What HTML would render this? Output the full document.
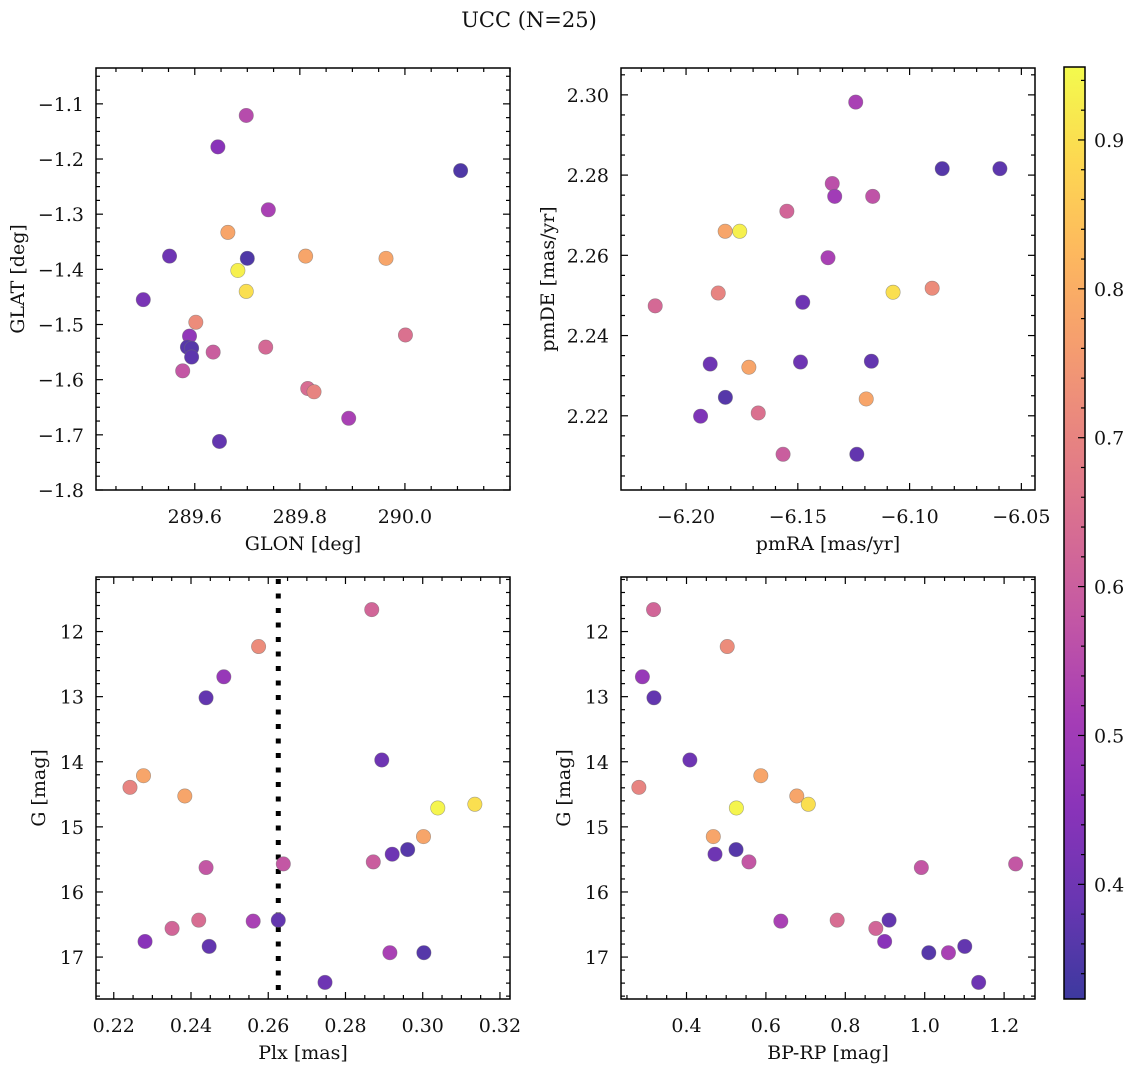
<!DOCTYPE html>
<html><head><meta charset="utf-8"><title>UCC (N=25)</title>
<style>
html,body{margin:0;padding:0;background:#fff;}
svg{display:block;font-family:"DejaVu Serif","Liberation Serif",serif;}
</style></head>
<body>
<svg id="fig" width="1136" height="1067" viewBox="0 0 1136 1067" xmlns="http://www.w3.org/2000/svg">
<defs>
<linearGradient id="cbgrad" x1="0" y1="1" x2="0" y2="0"></linearGradient>
</defs>
<text x="529" y="27" font-size="21" text-anchor="middle" fill="#111">UCC (N=25)</text>
</svg>
<script>
// ---- data: top-left GLON/GLAT ----
const glonTL = [289.698,289.644,290.106,289.740,289.663,289.552,289.700,289.811,289.964,289.682,289.698,289.502,289.602,289.590,290.001,289.586,289.594,289.594,289.635,289.735,289.577,289.815,289.827,289.893,289.647];
const glatTL = [-1.121,-1.178,-1.221,-1.292,-1.333,-1.376,-1.380,-1.376,-1.380,-1.402,-1.440,-1.455,-1.496,-1.521,-1.519,-1.541,-1.543,-1.559,-1.550,-1.541,-1.584,-1.616,-1.622,-1.670,-1.712];
const probTL = [0.55,0.45,0.35,0.52,0.78,0.40,0.35,0.78,0.78,0.93,0.90,0.42,0.72,0.47,0.65,0.36,0.36,0.37,0.60,0.63,0.58,0.64,0.70,0.52,0.38];
const xticksTL = [289.6,289.8,290.0];
const xtickLabelsTL = ["289.6","289.8","290.0"];
const yticksTL = [-1.1,-1.2,-1.3,-1.4,-1.5,-1.6,-1.7,-1.8];
const ytickLabelsTL = ["−1.1","−1.2","−1.3","−1.4","−1.5","−1.6","−1.7","−1.8"];
// ---- data: top-right pmRA/pmDE ----
const pmraTR = [-6.1241,-6.0854,-6.0596,-6.1346,-6.1335,-6.1165,-6.1549,-6.1825,-6.1760,-6.1365,-6.1856,-6.2138,-6.1478,-6.1074,-6.0899,-6.1892,-6.1719,-6.1488,-6.1171,-6.1824,-6.1194,-6.1935,-6.1677,-6.1566,-6.1236];
const pmdeTR = [2.2982,2.2816,2.2816,2.2779,2.2747,2.2747,2.2710,2.2660,2.2660,2.2594,2.2506,2.2474,2.2483,2.2508,2.2518,2.2329,2.2321,2.2334,2.2336,2.2246,2.2242,2.2199,2.2207,2.2104,2.2104];
const probTR = [0.52,0.36,0.37,0.56,0.50,0.57,0.62,0.78,0.93,0.52,0.70,0.63,0.40,0.90,0.72,0.40,0.78,0.40,0.38,0.36,0.78,0.43,0.65,0.60,0.38];
const xticksTR = [-6.20,-6.15,-6.10,-6.05];
const xtickLabelsTR = ["−6.20","−6.15","−6.10","−6.05"];
const yticksTR = [2.22,2.24,2.26,2.28,2.30];
const ytickLabelsTR = ["2.22","2.24","2.26","2.28","2.30"];
// ---- data: bottom-left Plx/G ----
const plxBL = [0.2868,0.2575,0.2485,0.2439,0.2894,0.2277,0.2242,0.2384,0.3039,0.3135,0.3002,0.2961,0.2921,0.2872,0.2639,0.2439,0.2420,0.2561,0.2626,0.2351,0.2281,0.2447,0.2915,0.3003,0.2747];
const gBL = [11.663,12.230,12.695,13.017,13.973,14.214,14.393,14.526,14.710,14.653,15.149,15.349,15.420,15.538,15.569,15.625,16.433,16.448,16.433,16.560,16.760,16.836,16.933,16.933,17.389];
const probBL = [0.62,0.72,0.48,0.38,0.40,0.78,0.70,0.78,0.94,0.90,0.78,0.36,0.40,0.60,0.58,0.58,0.64,0.52,0.38,0.62,0.45,0.38,0.52,0.36,0.40];
const plxMedian = [0.2626];
const xticksBL = [0.22,0.24,0.26,0.28,0.30,0.32];
const xtickLabelsBL = ["0.22","0.24","0.26","0.28","0.30","0.32"];
const yticksG = [12,13,14,15,16,17];
const ytickLabelsG = ["12","13","14","15","16","17"];
// ---- data: bottom-right BP-RP/G ----
const bprpBR = [0.317,0.5026,0.2889,0.318,0.4085,0.280,0.5872,0.6778,0.5256,0.7068,0.4675,0.5248,0.4718,0.5573,0.9915,1.2291,0.6376,0.7795,0.9103,0.8769,0.8991,1.1009,1.0103,1.0598,1.1359];
const gBR = [11.663,12.230,12.695,13.017,13.973,14.393,14.214,14.526,14.710,14.653,15.149,15.349,15.420,15.538,15.625,15.569,16.448,16.433,16.433,16.560,16.760,16.836,16.933,16.933,17.389];
const probBR = [0.62,0.72,0.48,0.38,0.40,0.70,0.78,0.78,0.94,0.90,0.78,0.36,0.40,0.58,0.58,0.58,0.52,0.64,0.38,0.62,0.45,0.38,0.36,0.52,0.40];
const xticksBR = [0.4,0.6,0.8,1.0,1.2];
const xtickLabelsBR = ["0.4","0.6","0.8","1.0","1.2"];
// ---- colorbar ----
const cbTicks = [0.4,0.5,0.6,0.7,0.8,0.9];
const cbTickLabels = ["0.4","0.5","0.6","0.7","0.8","0.9"];
const cRange = [0.323,0.949];

const NS="http://www.w3.org/2000/svg";
const svg=document.getElementById('fig');
const FS=19;
const plasma=[[13,8,135],[65,4,157],[106,0,168],[143,13,164],[177,42,144],[204,71,120],[225,100,98],[242,132,75],[252,166,54],[252,206,37],[240,249,33]];
function cmap(t){t=Math.max(0,Math.min(1,t));const s=t*10;const i=Math.min(9,Math.floor(s));const f=s-i;const a=plasma[i],b=plasma[i+1];
 const c=a.map((v,k)=>Math.round(v+(b[k]-v)*f));
 const al=0.8;return 'rgb('+c.map(v=>Math.round(v*al+255*(1-al))).join(',')+')';}
function mk(tag,attrs,parent){const e=document.createElementNS(NS,tag);for(const k in attrs)e.setAttribute(k,attrs[k]);(parent||svg).appendChild(e);return e;}

function panel(o){
 const g=mk('g',{});
 
 
 const X=v=>o.x0+(v-o.xmin)/(o.xmax-o.xmin)*(o.x1-o.x0);
 const Y=o.yinv?(v=>o.y0+(v-o.ymin)/(o.ymax-o.ymin)*(o.y1-o.y0)):(v=>o.y1-(v-o.ymin)/(o.ymax-o.ymin)*(o.y1-o.y0));
 const tg=mk('g',{stroke:'#000','stroke-width':1.2},g);
 
 
 const step=o.xt[1]-o.xt[0];const ms=step/o.xsub;
 for(let v=o.xt[0]-Math.ceil((o.xt[0]-o.xmin)/ms)*ms;v<=o.xmax+1e-9;v+=ms){if(v<o.xmin-1e-9)continue;const px=X(v);
   const maj=o.xt.some(t=>Math.abs(t-v)<ms*0.1);const L=maj?7:4;
   mk('line',{x1:px,x2:px,y1:o.y1,y2:o.y1-L},tg);mk('line',{x1:px,x2:px,y1:o.y0,y2:o.y0+L},tg);}
 const ystep=Math.abs(o.yt[1]-o.yt[0]);const yms=ystep/o.ysub;const ylo=Math.min(...o.yt);
 for(let v=ylo-Math.ceil((ylo-Math.min(o.ymin,o.ymax))/yms)*yms;v<=Math.max(o.ymin,o.ymax)+1e-9;v+=yms){if(v<Math.min(o.ymin,o.ymax)-1e-9)continue;const py=Y(v);
   const maj=o.yt.some(t=>Math.abs(t-v)<yms*0.1);const L=maj?7:4;
   mk('line',{x1:o.x0,x2:o.x0+L,y1:py,y2:py},tg);mk('line',{x1:o.x1,x2:o.x1-L,y1:py,y2:py},tg);}
 o.xt.forEach((v,i)=>{const t=mk('text',{x:X(v),y:o.y1+33,'font-size':FS,'text-anchor':'middle',fill:'#111'},g);t.textContent=o.xl[i];
   
   });
 o.yt.forEach((v,i)=>{const t=mk('text',{x:o.x0-12,y:Y(v)+7,'font-size':FS,'text-anchor':'end',fill:'#111'},g);t.textContent=o.yl[i];
   
   });
 const xt=mk('text',{x:(o.x0+o.x1)/2,y:o.y1+60,'font-size':FS,'text-anchor':'middle',fill:'#111'},g);xt.textContent=o.xlabel;
 
 
 const yc=(o.y0+o.y1)/2;
 const yt=mk('text',{x:o.ylx,y:yc,'font-size':FS,'text-anchor':'middle',fill:'#111',transform:'rotate(-90 '+o.ylx+' '+yc+')'},g);yt.textContent=o.ylabel;
 
 
 if(o.vline){o.vline.forEach(v=>{const l=mk('line',{x1:X(v),x2:X(v),y1:o.y0+2,y2:o.y1,stroke:'#000','stroke-width':5,'stroke-dasharray':'5 9.5'},g);
   
   });}
 o.xs.forEach((v,i)=>{const c=mk('circle',{cx:X(v),cy:Y(o.ys[i]),r:7.2,fill:cmap((o.cs[i]-cRange[0])/(cRange[1]-cRange[0])),stroke:'rgba(110,110,110,0.6)','stroke-width':0.6},g);
   
   });
 const fr=mk('rect',{x:o.x0,y:o.y0,width:o.x1-o.x0,height:o.y1-o.y0,fill:'none',stroke:'#000','stroke-width':1.5},g);
 
 
}
panel({name:'glon-glat-panel',x0:96,x1:510,y0:68,y1:490,xmin:289.412,xmax:290.200,ymin:-1.8,ymax:-1.035,xt:xticksTL,xl:xtickLabelsTL,yt:yticksTL,yl:ytickLabelsTL,xsub:4,ysub:4,xs:glonTL,ys:glatTL,cs:probTL,xlabel:'GLON [deg]',ylabel:'GLAT [deg]',ylx:24});
panel({name:'pm-panel',x0:621,x1:1035,y0:68,y1:490,xmin:-6.2291,xmax:-6.0439,ymin:2.2015,ymax:2.3067,xt:xticksTR,xl:xtickLabelsTR,yt:yticksTR,yl:ytickLabelsTR,xsub:5,ysub:4,xs:pmraTR,ys:pmdeTR,cs:probTR,xlabel:'pmRA [mas/yr]',ylabel:'pmDE [mas/yr]',ylx:554});
panel({name:'plx-g-panel',x0:96,x1:510,y0:577,y1:999,xmin:0.2154,xmax:0.3226,ymin:11.162,ymax:17.644,yinv:true,xt:xticksBL,xl:xtickLabelsBL,yt:yticksG,yl:ytickLabelsG,xsub:4,ysub:5,xs:plxBL,ys:gBL,cs:probBL,xlabel:'Plx [mas]',ylabel:'G [mag]',ylx:45,vline:plxMedian});
panel({name:'cmd-panel',x0:621,x1:1035,y0:577,y1:999,xmin:0.235,xmax:1.2778,ymin:11.162,ymax:17.644,yinv:true,xt:xticksBR,xl:xtickLabelsBR,yt:yticksG,yl:ytickLabelsG,xsub:4,ysub:5,xs:bprpBR,ys:gBR,cs:probBR,xlabel:'BP-RP [mag]',ylabel:'G [mag]',ylx:570});

const grad=document.getElementById('cbgrad');
for(let i=0;i<=20;i++){mk('stop',{offset:(i/20),'stop-color':cmap(i/20)},grad);}
const cb=mk('g',{});


const cx0=1064,cx1=1085,cy0=67,cy1=999;
mk('rect',{x:cx0,y:cy0,width:cx1-cx0,height:cy1-cy0,fill:'url(#cbgrad)'},cb);
const CY=v=>cy1-(v-cRange[0])/(cRange[1]-cRange[0])*(cy1-cy0);
for(let k=Math.ceil(cRange[0]/0.02);k*0.02<=cRange[1];k++){const v=k*0.02;const maj=cbTicks.some(t=>Math.abs(t-v)<0.004);
 mk('line',{x1:cx1,x2:cx1-(maj?7:4),y1:CY(v),y2:CY(v),stroke:'#000','stroke-width':1.2},cb);}
cbTicks.forEach((v,i)=>{const t=mk('text',{x:cx1+9,y:CY(v)+7,'font-size':FS,fill:'#111'},cb);t.textContent=cbTickLabels[i];
 
 });
mk('rect',{x:cx0,y:cy0,width:cx1-cx0,height:cy1-cy0,fill:'none',stroke:'#000','stroke-width':1.5},cb);
</script>
</body></html>
